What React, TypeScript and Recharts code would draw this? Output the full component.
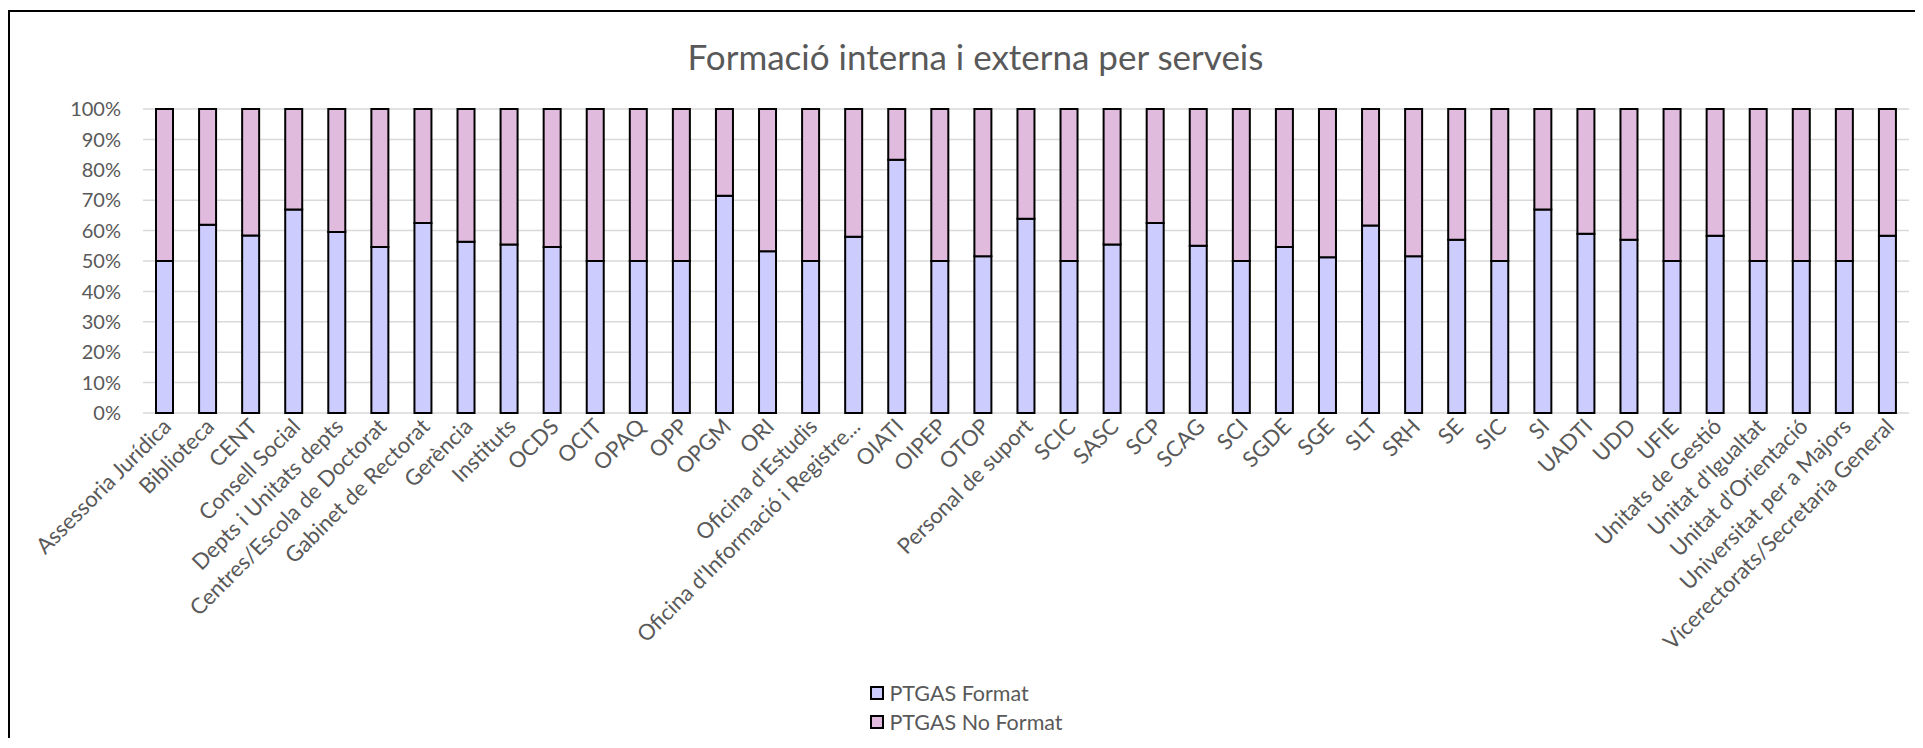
import React from "react";
import { BarChart, Bar, XAxis, YAxis, CartesianGrid, Legend } from "recharts";

const categories: string[] = [
  "Assessoria Jurídica",
  "Biblioteca",
  "CENT",
  "Consell Social",
  "Depts i Unitats depts",
  "Centres/Escola de Doctorat",
  "Gabinet de Rectorat",
  "Gerència",
  "Instituts",
  "OCDS",
  "OCIT",
  "OPAQ",
  "OPP",
  "OPGM",
  "ORI",
  "Oficina d'Estudis",
  "Oficina d'Informació i Registre...",
  "OIATI",
  "OIPEP",
  "OTOP",
  "Personal de suport",
  "SCIC",
  "SASC",
  "SCP",
  "SCAG",
  "SCI",
  "SGDE",
  "SGE",
  "SLT",
  "SRH",
  "SE",
  "SIC",
  "SI",
  "UADTI",
  "UDD",
  "UFIE",
  "Unitats de Gestió",
  "Unitat d'Igualtat",
  "Unitat d'Orientació",
  "Universitat per a Majors",
  "Vicerectorats/Secretaria General",
];

const formatValues: number[] = [
  50, 61.9, 58.4, 66.9, 59.5, 54.6, 62.5, 56.3, 55.4, 54.6, 50, 50, 50, 71.5,
  53.2, 50, 58.0, 83.3, 50, 51.6, 63.9, 50, 55.4, 62.5, 55.0, 50, 54.6, 51.2,
  61.7, 51.6, 57.0, 50, 66.9, 59.0, 57.0, 50, 58.3, 50, 50, 50, 58.3,
];

const noFormatValues: number[] = [
  50, 38.1, 41.6, 33.1, 40.5, 45.4, 37.5, 43.7, 44.6, 45.4, 50, 50, 50, 28.5,
  46.8, 50, 42.0, 16.7, 50, 48.4, 36.1, 50, 44.6, 37.5, 45.0, 50, 45.4, 48.8,
  38.3, 48.4, 43.0, 50, 33.1, 41.0, 43.0, 50, 41.7, 50, 50, 50, 41.7,
];

const yTicks: number[] = [0, 10, 20, 30, 40, 50, 60, 70, 80, 90, 100];

const seriesNames = { format: "PTGAS Format", noFormat: "PTGAS No Format" };

const data = categories.map((name, i) => ({
  name,
  format: formatValues[i],
  noFormat: noFormatValues[i],
}));

const FONT = "Lato, 'Open Sans', sans-serif";
const GREY = "#595959";
const FORMAT_COLOR = "#CCCCFF";
const NOFORMAT_COLOR = "#E1BBDD";

const XTick = (props: any) => {
  const { x, y, payload } = props;
  return (
    <g transform={`translate(${x + 8},${y + 15})`}>
      <text
        x={0}
        y={0}
        textAnchor="end"
        transform="rotate(-45)"
        fill={GREY}
        fontSize={22}
        fontFamily={FONT}
      >
        {payload.value}
      </text>
    </g>
  );
};

const LegendContent = (props: any) => {
  const { payload } = props;
  return (
    <div style={{ display: "inline-block", textAlign: "left" }}>
      {(payload || []).map((entry: any) => (
        <div
          key={entry.value}
          style={{
            display: "flex",
            alignItems: "center",
            height: 29,
            fontFamily: FONT,
            fontSize: 21.5,
            color: GREY,
          }}
        >
          <span
            style={{
              display: "inline-block",
              width: 10,
              height: 10,
              border: "2px solid #000",
              background: entry.color,
              marginRight: 5,
            }}
          />
          {entry.value}
        </div>
      ))}
    </div>
  );
};

export default function App() {
  return (
    <div
      style={{
        position: "relative",
        top: 2,
        width: 1913,
        height: 728,
        borderTop: "2px solid #000",
        borderLeft: "2px solid #000",
        background: "#fff",
      }}
    >
      <div
        style={{
          position: "absolute",
          left: 9,
          top: 24,
          width: 1913,
          textAlign: "center",
          fontFamily: FONT,
          fontSize: 35,
          color: GREY,
          lineHeight: "40px",
        }}
      >
        Formació interna i externa per serveis
      </div>
      <BarChart
        width={1913}
        height={728}
        data={data}
        margin={{ top: 97, right: 14, left: 73, bottom: 4 }}
        barSize={17}
      >
        <CartesianGrid
          vertical={false}
          stroke="#D9D9D9"
          strokeWidth={1.5}
          horizontalValues={yTicks}
        />
        <XAxis
          dataKey="name"
          interval={0}
          tickLine={false}
          axisLine={false}
          tickSize={0}
          tickMargin={0}
          height={265}
          tick={<XTick />}
        />
        <YAxis
          domain={[0, 100]}
          ticks={yTicks}
          width={60}
          tickLine={false}
          axisLine={false}
          tickSize={0}
          tickMargin={22}
          tickFormatter={(v: number) => `${v}%`}
          tick={{ fill: GREY, fontSize: 20, fontFamily: FONT }}
        />
        <Legend
          layout="vertical"
          align="center"
          verticalAlign="bottom"
          content={<LegendContent />}
        />
        <Bar
          dataKey="format"
          name={seriesNames.format}
          stackId="a"
          fill={FORMAT_COLOR}
          stroke="#000"
          strokeWidth={2}
          isAnimationActive={false}
        />
        <Bar
          dataKey="noFormat"
          name={seriesNames.noFormat}
          stackId="a"
          fill={NOFORMAT_COLOR}
          stroke="#000"
          strokeWidth={2}
          isAnimationActive={false}
        />
      </BarChart>
    </div>
  );
}
